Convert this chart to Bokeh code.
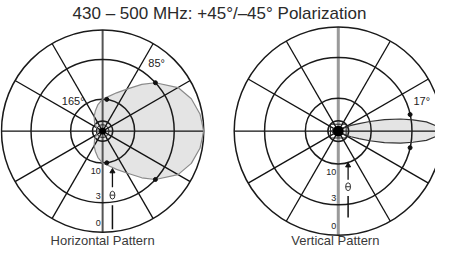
import numpy as np
from bokeh.plotting import figure
from bokeh.models import Range1d
from bokeh.core.properties import value
from bokeh.embed import file_html
from bokeh.resources import INLINE

# ---------------- data ----------------
title_text = "430 \u2013 500 MHz: +45\u00b0/\u201345\u00b0 Polarization"
panel_names = ["Horizontal Pattern", "Vertical Pattern"]

ring_db = [0, -3, -10, -20]
ring_labels = ["10", "3", "0"]
ring_label_db = [-10, -3, 0]
spoke_angles = [0, 30, 60, 120, 150, 180, 210, 240, 300, 330]

# horizontal pattern (half, symmetric): angle deg, relative gain dB
h_angles = [0, 10, 20, 30, 42.5, 50, 60, 70, 82.5, 90, 100, 110, 120, 135, 150, 165, 180]
h_db = [0, -0.2, -0.6, -1.3, -3, -4.4, -6.4, -7.9, -9.4, -10, -11.5, -13.5, -15.5, -19, -23, -26, -27]
h_bw = 85
h_bw10 = 165

# vertical pattern (half, symmetric)
v_angles = [0, 3, 6, 8.5, 11, 14, 17, 20, 24, 30, 40, 60, 90, 120, 150, 180]
v_db = [0, -0.5, -1.4, -2.8, -4.3, -6.8, -10, -13.5, -17.5, -23, -27, -30, -30, -28, -26, -24]
v_bw = 17

# ---------------- layout (image pixel space, uniformly scaled to fit) ----------------
W, H = 435, 250
XSPAN = 443.0
YSPAN = XSPAN * H / W
p = figure(width=W, height=H, output_backend="svg", toolbar_location=None,
           x_range=Range1d(8, 8 + XSPAN), y_range=Range1d(8 + YSPAN, 8),
           min_border=0, outline_line_color=None)
p.axis.visible = False
p.grid.visible = False

FONT = value("Liberation Sans")

def polar(cx, cy, R, ang, db):
    ang = np.asarray(ang, float)
    r = R * 10 ** (np.asarray(db, float) / 20.0)
    t = np.radians(ang)
    return cx + r * np.cos(t), cy - r * np.sin(t)

def full_pattern(angles, dbs):
    a = list(angles) + [-x for x in reversed(angles[1:-1])]
    d = list(dbs) + list(reversed(dbs[1:-1]))
    return a, d

def grid(cx, cy, R, vcolor, vwidth):
    xs0, ys0 = polar(cx, cy, R, spoke_angles, [0] * len(spoke_angles))
    p.segment(x0=[cx] * len(spoke_angles), y0=[cy] * len(spoke_angles), x1=xs0, y1=ys0,
              line_color="#111111", line_width=1.3)
    p.segment(x0=[cx], y0=[cy - R], x1=[cx], y1=[cy + R], line_color=vcolor, line_width=vwidth)
    radii = [R * 10 ** (d / 20.0) for d in ring_db]
    p.circle(x=[cx] * len(radii), y=[cy] * len(radii), radius=radii,
             fill_color=None, line_color="#1a1a1a", line_width=1.5)
    ly = [cy + R * 10 ** (d / 20.0) - 7 for d in ring_label_db]
    ly[0] = cy + R * 10 ** (ring_label_db[0] / 20.0) + 8
    ly[2] = cy + R - 9
    p.text(x=[cx - 2] * 3, y=ly, text=ring_labels, text_font=FONT, text_font_size="9px",
           text_align="right", text_baseline="middle", text_color="#222222")

def antenna(x, y_top, y_bot):
    span = y_bot - y_top
    a0, a1 = y_top, y_top + span * 0.3
    p.segment(x0=[x], y0=[a1], x1=[x], y1=[a0 + 2], line_color="#111111", line_width=1.3)
    p.scatter(x=[x], y=[a0 + 2], marker="triangle", size=5, fill_color="#111111", line_color="#111111")
    sy = y_top + span * 0.43
    p.ellipse(x=[x], y=[sy], width=5, height=8, fill_color=None, line_color="#333333", line_width=1)
    p.segment(x0=[x - 2.5], y0=[sy], x1=[x + 2.5], y1=[sy], line_color="#333333", line_width=1)
    p.segment(x0=[x], y0=[y_top + span * 0.6], x1=[x], y1=[y_bot], line_color="#111111", line_width=1.5)

# ---------------- left: horizontal pattern ----------------
cxL, cyL, RL = 112, 141, 103
a, d = full_pattern(h_angles, h_db)
hx, hy = polar(cxL, cyL, RL, a, d)
p.patch(hx, hy, fill_color="#e4e4e4", line_color=None)
grid(cxL, cyL, RL, "#555555", 2)
p.patch(hx, hy, fill_color=None, line_color="#8a8a8a", line_width=1.2)
p.circle(x=[cxL], y=[cyL], radius=3.5, fill_color="#000000", line_color=None)
p.circle(x=[cxL], y=[cyL], radius=6.5, fill_color=None, line_color="#222222", line_width=1)
mx, my = polar(cxL, cyL, RL, [h_bw / 2, -h_bw / 2], [-3, -3])
p.scatter(x=mx, y=my, size=4, fill_color="#111111", line_color="#111111")
mx, my = polar(cxL, cyL, RL, [h_bw10 / 2, -h_bw10 / 2], [-10, -10])
p.scatter(x=mx, y=my, size=4, fill_color="#111111", line_color="#111111")
p.text(x=[167], y=[72], text=[f"{h_bw}\u00b0"], text_font=FONT, text_font_size="11px",
       text_align="center", text_baseline="middle", text_color="#222222")
p.text(x=[82], y=[110], text=[f"{h_bw10}\u00b0"], text_font=FONT, text_font_size="11px",
       text_align="center", text_baseline="middle", text_color="#222222")
antenna(122, 180, 241)

# ---------------- right: vertical pattern ----------------
cxR, cyR, RR = 352, 141, 106
a, d = full_pattern(v_angles, v_db)
vx, vy = polar(cxR, cyR, RR, a, d)
p.patch(vx, vy, fill_color="#e4e4e4", line_color=None)
grid(cxR, cyR, RR, "#9a9a9a", 3)
p.patch(vx, vy, fill_color=None, line_color="#333333", line_width=1.2)
p.circle(x=[cxR], y=[cyR], radius=5.5, fill_color="#000000", line_color=None)
p.rect(x=[cxR], y=[cyR], width=16, height=14, fill_color=None, line_color="#222222", line_width=1)
mx, my = polar(cxR, cyR, RR, [13, -13], [-3, -3])
p.scatter(x=mx, y=my, size=4, fill_color="#111111", line_color="#111111")
p.text(x=[437], y=[110], text=[f"{v_bw}\u00b0"], text_font=FONT, text_font_size="11px",
       text_align="center", text_baseline="middle", text_color="#222222")
antenna(362, 174, 229)

# ---------------- titles ----------------
p.text(x=[231], y=[21], text=[title_text], text_font=FONT, text_font_size="17px",
       text_align="center", text_baseline="middle", text_color="#2a2a2a")
p.text(x=[112, 349], y=[252, 252], text=panel_names, text_font=FONT, text_font_size="13px",
       text_align="center", text_baseline="middle", text_color="#3a3a3a")

open("out.html", "w").write(file_html(p, INLINE))
